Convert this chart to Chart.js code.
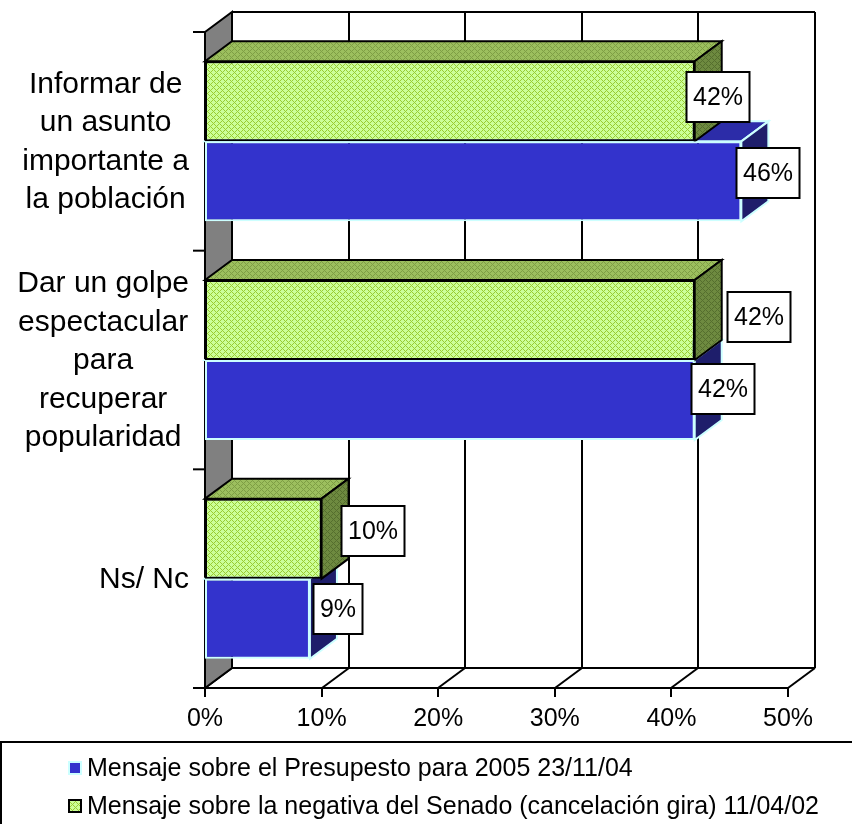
<!DOCTYPE html>
<html>
<head>
<meta charset="utf-8">
<script src="https://cdn.jsdelivr.net/npm/chart.js@4.4.0/dist/chart.umd.min.js"></script>
<style>
    html, body { margin: 0; padding: 0; background: #ffffff; }
    #wrap { width: 852px; height: 824px; position: relative; }
</style>
</head>
<body>
<div id="wrap"><canvas id="chart"></canvas></div>
<script>
// Datos del gráfico
const categories = [
    ['Informar de', 'un asunto', 'importante a', 'la población'],
    ['Dar un golpe', 'espectacular', 'para', 'recuperar', 'popularidad'],
    ['Ns/ Nc']
];
const seriesNames = [
    'Mensaje sobre el Presupesto para 2005 23/11/04',
    'Mensaje sobre la negativa del Senado (cancelación gira) 11/04/02'
];
const presupuesto = [46, 42, 9];
const senado = [42, 42, 10];
const xTicks = [0, 10, 20, 30, 40, 50];

const FONT = '"Liberation Sans", Arial, sans-serif';
// Desplazamiento de la profundidad 3D
const DX = 27, DY = -20;

// Desplazamiento de las etiquetas respecto al final de la barra [serie][categoría]
const labelNudge = [
    [[23, -4], [64, -3], [51, -8]],   // senado (verde)
    [[27, -8], [28, -11], [28, -10]]  // presupuesto (azul)
];

/**
 * Crea un patrón de rombos pequeños
 */
function makePattern(bg, fg) {
    const c = document.createElement('canvas');
    c.width = 6; c.height = 6;
    const g = c.getContext('2d');
    g.fillStyle = bg;
    g.fillRect(0, 0, 6, 6);
    g.fillStyle = fg;
    for (let x = 0; x < 6; x++) {
        for (let y = 0; y < 6; y++) {
            if ((x + y) % 6 === 0 || (x - y + 6) % 6 === 0) g.fillRect(x, y, 1, 1);
        }
    }
    return g.createPattern(c, 'repeat');
}

const greenFront = makePattern('#CCFF99', '#99CC33');
const greenTop = makePattern('#9CBF5E', '#7E9E45');
const greenSide = makePattern('#6E8A40', '#556E2E');

const faceStyles = [
    { top: greenTop, side: greenSide, stroke: '#000000' },
    { top: '#2C2CA8', side: '#1E1E6B', stroke: '#CCFFFF' }
];

function poly(ctx, pts, fill, stroke, lw) {
    ctx.beginPath();
    ctx.moveTo(pts[0][0], pts[0][1]);
    for (let i = 1; i < pts.length; i++) ctx.lineTo(pts[i][0], pts[i][1]);
    ctx.closePath();
    if (fill) { ctx.fillStyle = fill; ctx.fill(); }
    if (stroke) { ctx.strokeStyle = stroke; ctx.lineWidth = lw; ctx.stroke(); }
}

function line(ctx, x1, y1, x2, y2, lw) {
    ctx.beginPath();
    ctx.moveTo(x1, y1);
    ctx.lineTo(x2, y2);
    ctx.lineWidth = lw;
    ctx.strokeStyle = '#000000';
    ctx.stroke();
}

const box3d = {
    id: 'box3d',
    beforeDatasetsDraw(chart) {
        const ctx = chart.ctx;
        const a = chart.chartArea;
        const xs = chart.scales.x;
        ctx.save();

        // Paredes del fondo y rejilla
        xTicks.forEach(v => {
            const px = Math.round(xs.getPixelForValue(v));
            if (v > 0) line(ctx, px + DX, a.top + DY, px + DX, a.bottom + DY, 2);
            line(ctx, px, a.bottom, px + DX, a.bottom + DY, 2);
            line(ctx, px, a.bottom, px, a.bottom + 9, 2);
        });
        line(ctx, a.left + DX, a.top + DY, a.right + DX, a.top + DY, 2);
        line(ctx, a.right + DX, a.top + DY, a.right + DX, a.bottom + DY, 2);
        line(ctx, a.left + DX, a.bottom + DY, a.right + DX, a.bottom + DY, 2);
        line(ctx, a.left - 12, a.bottom, a.right, a.bottom, 2);

        // Pared izquierda
        poly(ctx, [[a.left, a.top], [a.left + DX, a.top + DY], [a.left + DX, a.bottom + DY], [a.left, a.bottom]],
            '#808080', '#000000', 2);

        // Marcas del eje de categorías
        const band = (a.bottom - a.top) / categories.length;
        for (let i = 0; i <= categories.length; i++) {
            const y = a.top + i * band;
            line(ctx, a.left - 12, y, a.left, y, 2);
        }

        // Caras superiores y laterales de las barras (azul primero, verde encima)
        for (let di = chart.data.datasets.length - 1; di >= 0; di--) {
            const st = faceStyles[di];
            chart.getDatasetMeta(di).data.forEach(bar => {
                const top = bar.y - bar.height / 2;
                const bot = bar.y + bar.height / 2;
                poly(ctx, [[bar.base, top], [bar.base + DX, top + DY], [bar.x + DX, top + DY], [bar.x, top]],
                    st.top, st.stroke, 2);
                poly(ctx, [[bar.x, top], [bar.x + DX, top + DY], [bar.x + DX, bot + DY], [bar.x, bot]],
                    st.side, st.stroke, 2);
            });
        }
        ctx.restore();
    },
    afterDatasetsDraw(chart) {
        const ctx = chart.ctx;
        ctx.save();
        ctx.font = '25px ' + FONT;
        ctx.textAlign = 'center';
        ctx.textBaseline = 'middle';
        chart.data.datasets.forEach((ds, di) => {
            chart.getDatasetMeta(di).data.forEach((bar, i) => {
                const txt = ds.data[i] + '%';
                const [ox, oy] = labelNudge[di][i];
                const w = Math.round(ctx.measureText(txt).width + 13);
                const h = 50;
                const cx = Math.round(bar.x + ox), cy = Math.round(bar.y + oy);
                ctx.fillStyle = '#ffffff';
                ctx.fillRect(cx - w / 2, cy - h / 2, w, h);
                ctx.strokeStyle = '#000000';
                ctx.lineWidth = 2;
                ctx.strokeRect(cx - w / 2, cy - h / 2, w, h);
                ctx.fillStyle = '#000000';
                ctx.fillText(txt, cx, cy + 1);
            });
        });
        ctx.restore();
    },
    afterDraw(chart) {
        const ctx = chart.ctx;
        const ys = chart.scales.y;
        ctx.save();

        // Etiquetas de categorías: líneas centradas, bloque alineado a la derecha
        ctx.font = '30px ' + FONT;
        ctx.textBaseline = 'middle';
        ctx.textAlign = 'center';
        ctx.fillStyle = '#000000';
        const lh = 38.5;
        const right = 189;
        categories.forEach((lines, i) => {
            const cy = ys.getPixelForValue(i);
            const bw = Math.max(...lines.map(s => ctx.measureText(s).width));
            const cx = right - bw / 2;
            lines.forEach((s, k) => {
                ctx.fillText(s, cx, cy + (k - (lines.length - 1) / 2) * lh + 1);
            });
        });

        // Leyenda
        ctx.strokeStyle = '#000000';
        ctx.lineWidth = 2;
        ctx.strokeRect(1, 742, 870, 100);
        ctx.font = '25px ' + FONT;
        ctx.textAlign = 'left';
        const order = [1, 0];
        order.forEach((di, k) => {
            const ds = chart.data.datasets[di];
            const y = 768 + k * 38;
            ctx.fillStyle = di === 0 ? greenFront : ds.backgroundColor;
            ctx.fillRect(69, y - 6, 12, 12);
            ctx.strokeStyle = ds.borderColor;
            ctx.lineWidth = 2;
            ctx.strokeRect(69, y - 6, 12, 12);
            ctx.fillStyle = '#000000';
            ctx.fillText(ds.label, 87, y + 1);
        });
        ctx.restore();
    }
};

new Chart(document.getElementById('chart'), {
    type: 'bar',
    data: {
        labels: categories.map(c => c.join(' ')),
        datasets: [
            {
                label: seriesNames[1],
                data: senado,
                backgroundColor: greenFront,
                borderColor: '#000000',
                borderWidth: 2,
                borderSkipped: false
            },
            {
                label: seriesNames[0],
                data: presupuesto,
                backgroundColor: '#3333CC',
                borderColor: '#CCFFFF',
                borderWidth: 2,
                borderSkipped: false
            }
        ]
    },
    options: {
        indexAxis: 'y',
        responsive: true,
        maintainAspectRatio: false,
        animation: false,
        categoryPercentage: 0.732,
        barPercentage: 1,
        layout: { padding: { top: 32, right: 64, left: 0, bottom: 0 } },
        plugins: {
            legend: { display: false },
            tooltip: { enabled: false }
        },
        scales: {
            x: {
                min: 0,
                max: 50,
                afterBuildTicks: s => { s.ticks = xTicks.map(v => ({ value: v })); },
                afterFit: s => { s.height = 136; },
                grid: { display: false, drawTicks: false },
                border: { display: false },
                ticks: {
                    padding: 16,
                    color: '#000000',
                    font: { family: FONT, size: 25 },
                    maxRotation: 0,
                    callback: v => v + '%'
                }
            },
            y: {
                afterFit: s => { s.width = 205; },
                grid: { display: false, drawTicks: false },
                border: { display: false },
                ticks: { display: false }
            }
        }
    },
    plugins: [box3d]
});
</script>
</body>
</html>
